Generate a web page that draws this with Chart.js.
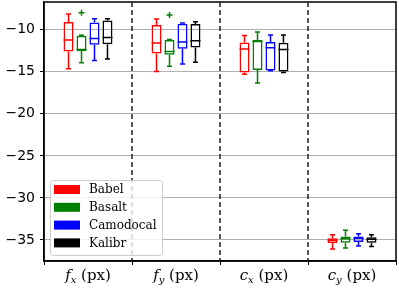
<!DOCTYPE html>
<html>
<head>
<meta charset="utf-8">
<script src="https://cdn.jsdelivr.net/npm/chart.js@4.4.0/dist/chart.umd.min.js"></script>
<style>
html, body { margin: 0; padding: 0; background: #fff; }
</style>
</head>
<body>
<canvas id="grafico" width="399" height="288"></canvas>
<script>
'use strict';
////////////////////////////////////////////////////
// Datos
var catBase = ['f', 'f', 'c', 'c'];
var catSub = ['x', 'y', 'x', 'y'];
var catUnit = ' (px)';
var categorias = ['f_x (px)', 'f_y (px)', 'c_x (px)', 'c_y (px)'];
var nombres = ['Babel', 'Basalt', 'Camodocal', 'Kalibr'];
var colores = ['#ff0000', '#008000', '#0000ff', '#000000'];
// [bigote inf, q1, mediana, q3, bigote sup] por categoria
var babel = [
    [-14.64, -12.58, -11.23, -9.08, -8.13],
    [-14.96, -12.82, -11.59, -9.44, -8.73],
    [-15.28, -15.08, -12.30, -11.51, -10.68],
    [-36.07, -35.36, -35.04, -34.80, -34.37]
];
var basalt = [
    [-13.93, -12.54, -12.34, -10.71, -10.65],
    [-14.33, -12.98, -12.58, -11.23, -11.15],
    [-16.33, -14.80, -11.40, -11.22, -10.28],
    [-35.95, -35.32, -34.84, -34.60, -33.85]
];
var camodocal = [
    [-13.65, -11.79, -11.03, -9.13, -8.69],
    [-14.08, -12.26, -11.47, -9.29, -9.20],
    [-14.88, -14.84, -12.14, -11.47, -10.63],
    [-35.71, -35.24, -34.80, -34.60, -34.25]
];
var kalibr = [
    [-13.49, -11.71, -10.91, -8.89, -8.69],
    [-13.85, -12.11, -11.31, -9.32, -9.05],
    [-15.08, -14.96, -12.34, -11.55, -10.63],
    [-35.79, -35.32, -34.92, -34.68, -34.37]
];
// valores atipicos (+) por serie y categoria
var outBabel = [[], [], [], []];
var outBasalt = [[-7.98], [-8.25], [], []];
var outCamodocal = [[], [], [], []];
var outKalibr = [[], [], [], []];
var yMin = -37.5;
var yMax = -6.7;
var yPaso = 5;
////////////////////////////////////////////////////
var series = [babel, basalt, camodocal, kalibr];
var atipicos = [outBabel, outBasalt, outCamodocal, outKalibr];

var datasets = [];
for (var i = 0; i < series.length; i++) {
    datasets.push({
        label: nombres[i],
        data: series[i].map(s => [s[1], s[3]]),
        backgroundColor: 'rgba(0,0,0,0)',
        borderColor: colores[i],
        borderWidth: 1.5,
        borderSkipped: false,
        categoryPercentage: 0.59,
        barPercentage: 0.77
    });
}

// bigotes, medianas, atipicos
var cajasPlugin = {
    id: 'cajas',
    afterDatasetsDraw(chart) {
        const ctx = chart.ctx;
        const y = chart.scales.y;
        ctx.save();
        ctx.lineWidth = 1.5;
        for (let i = 0; i < series.length; i++) {
            const meta = chart.getDatasetMeta(i);
            ctx.strokeStyle = colores[i];
            meta.data.forEach((bar, j) => {
                const s = series[i][j];
                const x = bar.x;
                const w = bar.width;
                ctx.beginPath();
                // mediana
                ctx.moveTo(x - w / 2, y.getPixelForValue(s[2]));
                ctx.lineTo(x + w / 2, y.getPixelForValue(s[2]));
                // bigotes
                ctx.moveTo(x, y.getPixelForValue(s[3]));
                ctx.lineTo(x, y.getPixelForValue(s[4]));
                ctx.moveTo(x, y.getPixelForValue(s[1]));
                ctx.lineTo(x, y.getPixelForValue(s[0]));
                // tapas
                ctx.moveTo(x - w / 4, y.getPixelForValue(s[4]));
                ctx.lineTo(x + w / 4, y.getPixelForValue(s[4]));
                ctx.moveTo(x - w / 4, y.getPixelForValue(s[0]));
                ctx.lineTo(x + w / 4, y.getPixelForValue(s[0]));
                ctx.stroke();
                // atipicos
                ctx.beginPath();
                atipicos[i][j].forEach(v => {
                    const py = y.getPixelForValue(v);
                    ctx.moveTo(x - 3, py);
                    ctx.lineTo(x + 3, py);
                    ctx.moveTo(x, py - 3);
                    ctx.lineTo(x, py + 3);
                });
                ctx.stroke();
            });
        }
        ctx.restore();
    },
    afterDraw(chart) {
        const ctx = chart.ctx;
        const ca = chart.chartArea;
        const x = chart.scales.x;
        ctx.save();
        // separadores discontinuos
        ctx.strokeStyle = '#000';
        ctx.lineWidth = 1.3;
        ctx.setLineDash([5, 3]);
        for (let j = 0; j < categorias.length - 1; j++) {
            const px = (x.getPixelForValue(j) + x.getPixelForValue(j + 1)) / 2;
            ctx.beginPath();
            ctx.moveTo(px, ca.top);
            ctx.lineTo(px, ca.bottom);
            ctx.stroke();
        }
        ctx.setLineDash([]);
        // marco
        ctx.lineWidth = 1.5;
        ctx.strokeRect(ca.left, ca.top, ca.right - ca.left, ca.bottom - ca.top);
        // leyenda
        const lx = ca.left + 6, ly = ca.bottom - 81;
        ctx.beginPath();
        ctx.roundRect(lx + 0.5, ly + 0.5, 112, 75, 3);
        ctx.fillStyle = 'rgba(255,255,255,0.8)';
        ctx.fill();
        ctx.strokeStyle = '#cccccc';
        ctx.lineWidth = 1;
        ctx.stroke();
        ctx.font = '12px "DejaVu Serif"';
        ctx.textBaseline = 'middle';
        ctx.textAlign = 'left';
        for (let i = 0; i < nombres.length; i++) {
            const ry = ly + 5 + i * 17.8;
            ctx.fillStyle = colores[i];
            ctx.fillRect(lx + 4, ry, 26, 9);
            ctx.fillStyle = '#000';
            ctx.fillText(nombres[i], lx + 39, ry + 5);
        }
        // etiquetas del eje x
        ctx.fillStyle = '#000';
        ctx.textBaseline = 'alphabetic';
        for (let j = 0; j < categorias.length; j++) {
            const cx = x.getPixelForValue(j);
            ctx.font = 'italic 15px "DejaVu Serif"';
            const wb = ctx.measureText(catBase[j]).width;
            ctx.font = 'italic 10px "DejaVu Serif"';
            const ws = ctx.measureText(catSub[j]).width;
            ctx.font = '15px "DejaVu Serif"';
            const wu = ctx.measureText(catUnit).width;
            let sx = cx - (wb + ws + wu) / 2;
            const by = 280;
            ctx.font = 'italic 15px "DejaVu Serif"';
            ctx.fillText(catBase[j], sx, by);
            sx += wb;
            ctx.font = 'italic 10px "DejaVu Serif"';
            ctx.fillText(catSub[j], sx, by + 3);
            sx += ws;
            ctx.font = '15px "DejaVu Serif"';
            ctx.fillText(catUnit, sx, by);
        }
        ctx.restore();
    }
};

var ctx = document.getElementById('grafico').getContext('2d');
new Chart(ctx, {
    type: 'bar',
    data: { labels: categorias, datasets: datasets },
    options: {
        responsive: false,
        animation: false,
        layout: { padding: { top: 2, right: 3, left: 0, bottom: 0 } },
        plugins: { legend: { display: false }, tooltip: { enabled: false } },
        scales: {
            x: {
                grid: { drawOnChartArea: false, drawTicks: true, tickLength: 4, tickColor: '#000', tickWidth: 1 },
                border: { color: '#000', width: 1.5 },
                ticks: { color: 'rgba(0,0,0,0)', maxRotation: 0 },
                afterFit: function (scale) {
                    scale.height = 27;
                    scale.paddingLeft = 0;
                    scale.paddingRight = 0;
                }
            },
            y: {
                min: yMin,
                max: yMax,
                grid: { color: '#b0b0b0', lineWidth: 1, tickLength: 4, tickColor: '#000' },
                border: { color: '#000', width: 1.5 },
                ticks: {
                    stepSize: yPaso,
                    includeBounds: false,
                    padding: 5,
                    color: '#000',
                    font: { family: '"DejaVu Sans"', size: 14 },
                    callback: function (v) { return v < 0 ? '\u2212' + Math.abs(v) : String(v); }
                },
                afterFit: function (scale) {
                    scale.width = 44;
                    scale.paddingTop = 0;
                    scale.paddingBottom = 0;
                }
            }
        }
    },
    plugins: [cajasPlugin]
});
</script>
</body>
</html>
